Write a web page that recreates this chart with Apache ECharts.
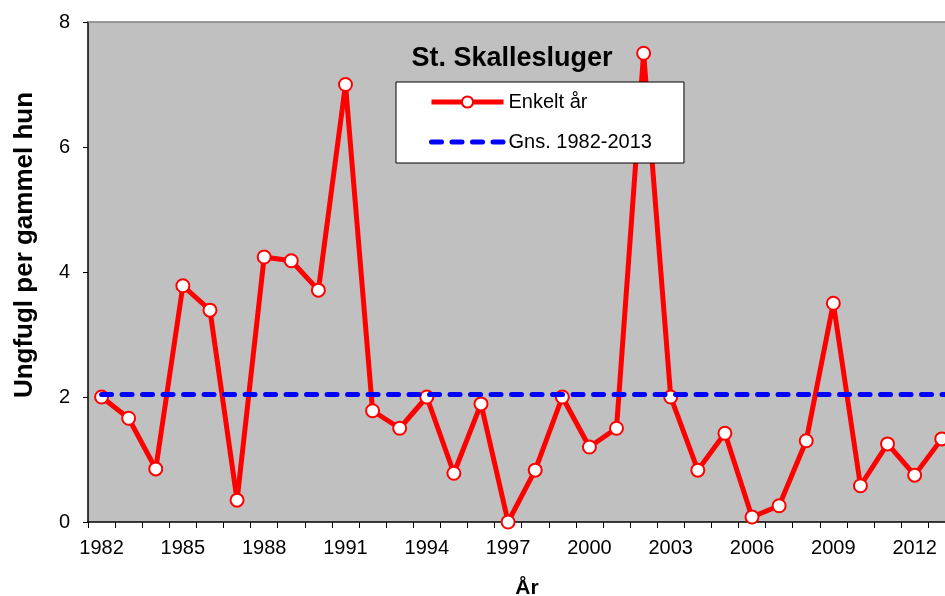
<!DOCTYPE html>
<html>
<head>
<meta charset="utf-8">
<title>St. Skallesluger</title>
<script src="https://cdn.jsdelivr.net/npm/echarts@6/dist/echarts.min.js"></script>
<style>
  html, body { margin: 0; padding: 0; background: #fff; }
  #chart { width: 945px; height: 596px; }
</style>
</head>
<body>
<div id="chart"></div>
<script>
  // years 1982-2013
  var years = [1982, 1983, 1984, 1985, 1986, 1987, 1988, 1989, 1990, 1991,
    1992, 1993, 1994, 1995, 1996, 1997, 1998, 1999, 2000, 2001,
    2002, 2003, 2004, 2005, 2006, 2007, 2008, 2009, 2010, 2011,
    2012, 2013]
  // ungfugl per gammel hun, enkelt år
  var enkeltAar = [2.0, 1.66, 0.85, 3.78, 3.39, 0.35, 4.24, 4.18, 3.71, 7.0,
    1.78, 1.5, 2.0, 0.78, 1.89, 0.0, 0.83, 2.0, 1.2, 1.5,
    7.5, 2.0, 0.83, 1.42, 0.08, 0.26, 1.3, 3.5, 0.58, 1.25,
    0.75, 1.33]
  // gennemsnit 1982-2013
  var gnsValue = 2.04
  var xLabels = [1982, 1985, 1988, 1991, 1994, 1997, 2000, 2003, 2006, 2009, 2012]
  var yTicks = [0, 2, 4, 6, 8]

  var FONT = 'Liberation Sans, Arial, sans-serif'
  var gnsDash = {color: '#0000FF', width: 5, type: [10, 10.5], cap: 'round'}

  // the original plot is cut at the right edge, part way into 2013
  var xMin = 1981.5
  var xMax = 2013.12
  var tickPos = years.map(function (y) { return y - 0.5 })

  var chart = echarts.init(document.getElementById('chart'), null, {renderer: 'canvas'})

  chart.setOption({
    backgroundColor: '#ffffff',
    animation: false,
    title: {
      text: 'St. Skallesluger',
      left: 507,
      top: 40,
      textAlign: 'center',
      textStyle: {fontFamily: FONT, fontSize: 27, fontWeight: 'bold', color: '#000'}
    },
    legend: {
      orient: 'vertical',
      left: 396,
      top: 82,
      padding: [10, 32, 11, 33],
      itemWidth: 72,
      itemHeight: 14,
      itemGap: 20,
      backgroundColor: '#ffffff',
      borderColor: '#000000',
      borderWidth: 1,
      borderRadius: 0,
      textStyle: {fontFamily: FONT, fontSize: 20, color: '#000'},
      data: [
        {name: 'Enkelt år', lineStyle: {width: 5}},
        {name: 'Gns. 1982-2013', itemStyle: {opacity: 0}, lineStyle: gnsDash}
      ]
    },
    grid: {
      left: 88,
      top: 22,
      right: 0,
      bottom: 74,
      show: true,
      backgroundColor: '#C0C0C0',
      borderWidth: 0
    },
    xAxis: [
      {
        type: 'value',
        min: xMin,
        max: xMax,
        axisLine: {onZero: false, lineStyle: {color: '#000', width: 1.5}},
        axisTick: {show: true, length: 6, customValues: tickPos, lineStyle: {color: '#000', width: 1}},
        axisLabel: {
          margin: 16, customValues: xLabels, fontFamily: FONT, fontSize: 20, color: '#000',
          formatter: function (v) { return String(v) }
        },
        splitLine: {show: false}
      },
      {
        // top edge of the plot area
        type: 'value',
        position: 'top',
        min: xMin,
        max: xMax,
        axisLine: {show: true, onZero: false, lineStyle: {color: '#808080', width: 1.5}},
        axisTick: {show: false},
        axisLabel: {show: false},
        splitLine: {show: false}
      }
    ],
    yAxis: {
      type: 'value',
      min: yTicks[0],
      max: yTicks[yTicks.length - 1],
      interval: 2,
      axisLine: {show: true, lineStyle: {color: '#000', width: 1.5}},
      axisTick: {show: true, length: 5, lineStyle: {color: '#000', width: 1}},
      axisLabel: {margin: 18, fontFamily: FONT, fontSize: 20, color: '#000'},
      splitLine: {show: false}
    },
    graphic: [
      {
        type: 'text',
        x: 25,
        y: 245,
        rotation: Math.PI / 2,
        style: {
          text: 'Ungfugl per gammel hun',
          font: 'bold 26px ' + FONT,
          fill: '#000',
          textAlign: 'center',
          textVerticalAlign: 'middle'
        }
      },
      {
        type: 'text',
        x: 527,
        y: 588,
        style: {
          text: 'År',
          font: 'bold 21px ' + FONT,
          fill: '#000',
          textAlign: 'center',
          textVerticalAlign: 'middle'
        }
      }
    ],
    series: [
      {
        name: 'Enkelt år',
        type: 'line',
        data: years.map(function (y, i) { return [y, enkeltAar[i]] }),
        z: 2,
        symbol: 'circle',
        symbolSize: 13,
        showAllSymbol: true,
        clip: false,
        lineStyle: {color: '#FF0000', width: 5},
        itemStyle: {color: '#ffffff', borderColor: '#FF0000', borderWidth: 2}
      },
      {
        name: 'Gns. 1982-2013',
        type: 'line',
        data: [],
        z: 3,
        symbol: 'none',
        lineStyle: gnsDash,
        itemStyle: {color: '#0000FF'},
        markLine: {
          silent: true,
          symbol: 'none',
          label: {show: false},
          lineStyle: gnsDash,
          data: [[{coord: [years[0], gnsValue]}, {coord: [xMax, gnsValue]}]]
        }
      }
    ]
  })
</script>
</body>
</html>
